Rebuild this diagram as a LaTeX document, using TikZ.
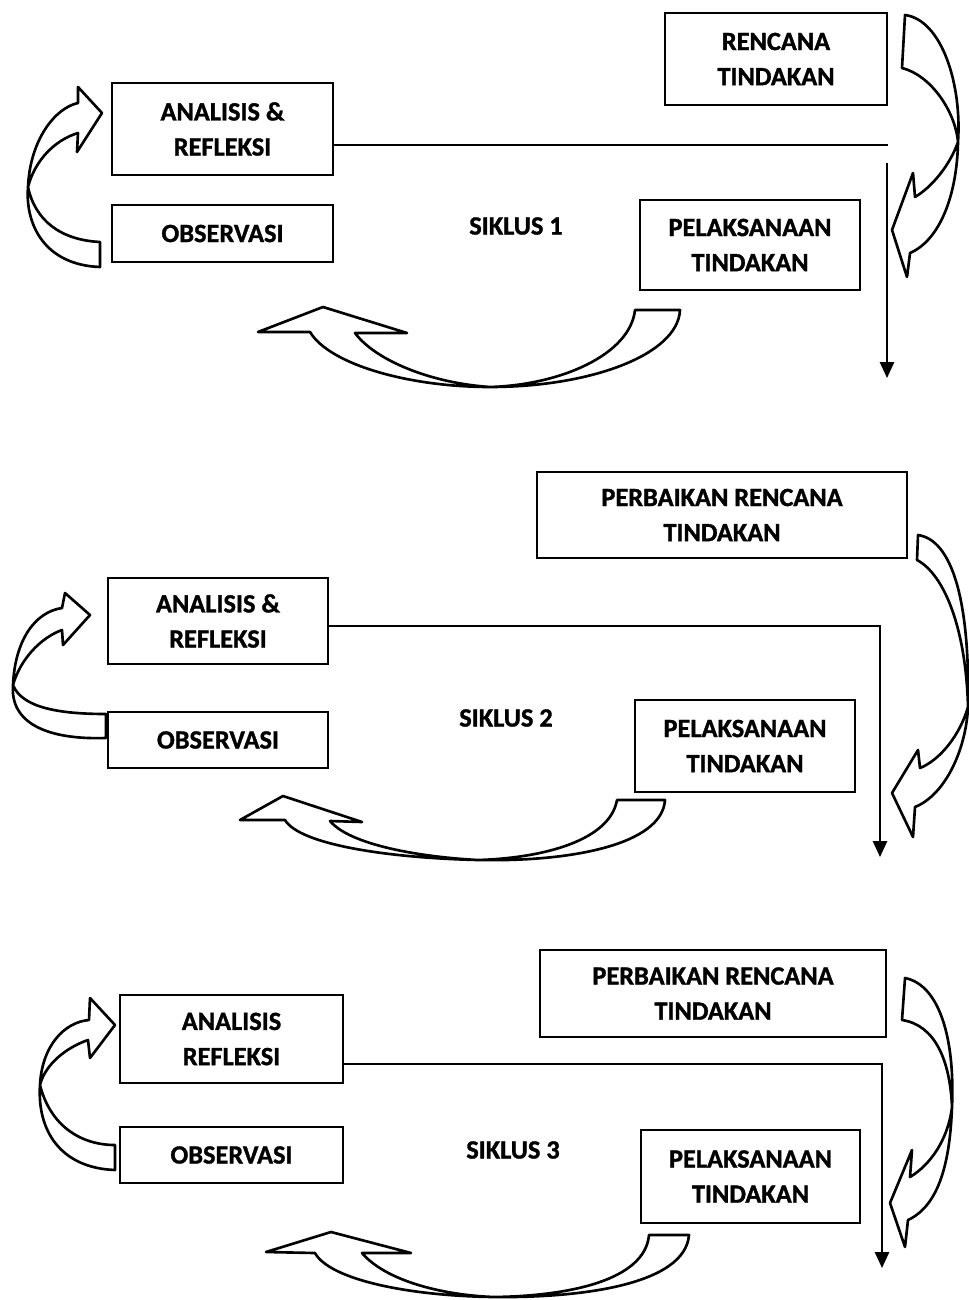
\documentclass[tikz,border=0pt]{standalone}
\usepackage{fontspec}
\setmainfont{Carlito}[BoldFeatures={FakeBold=1.2}]
\usetikzlibrary{arrows.meta}
\begin{document}
\begin{tikzpicture}[x=0.02cm,y=-0.02cm,
  box/.style={draw, line width=1.3pt, align=center, inner sep=0pt, font=\fontsize{15}{20}\selectfont\bfseries},
  lbl/.style={font=\fontsize{15}{20}\selectfont\bfseries},
  conn/.style={line width=1.2pt},
  arr/.style={conn, -{Triangle[width=8pt,length=9pt]}},
  ribbon/.style={draw, line width=1.5pt, fill=white, line join=round}]
\fill[white] (0,0) rectangle (969,1300);
\useasboundingbox (0,0) rectangle (969,1300);

% ---------------- SIKLUS 1 ----------------
\node[box, minimum width=4.44cm, minimum height=1.84cm] (ren1) at (776,59) {RENCANA\\TINDAKAN};
\node[box, minimum width=4.42cm, minimum height=1.84cm] (ana1) at (222.5,129) {ANALISIS \&\\REFLEKSI};
\node[box, minimum width=4.42cm, minimum height=1.14cm] (obs1) at (222.5,233.5) {OBSERVASI};
\node[box, minimum width=4.40cm, minimum height=1.80cm] (pel1) at (750,245) {PELAKSANAAN\\TINDAKAN};
\node[lbl] (sik1) at (516,226) {SIKLUS 1};
\coordinate (h1) at (888,145);
\coordinate (v1s) at (887,163);
\coordinate (v1e) at (887,378);
\draw[conn] (ana1.east |- h1) -- (h1);
\draw[arr] (v1s) -- (v1e);
% right curved arrow
\path[ribbon] (905,15) .. controls (942,20) and (962,85) .. (958,142)
  .. controls (957,195) and (940,240) .. (910,253) -- (907,277) -- (892,230)
  -- (913,173) -- (915,197) .. controls (932,187) and (950,165) .. (958,142)
  .. controls (955,110) and (930,75) .. (902,68) -- cycle;
% left curved arrow
\path[ribbon] (100,267) .. controls (45,265) and (25,225) .. (28,187)
  .. controls (30,140) and (55,108) .. (78,103) -- (78,87) -- (102,113)
  -- (77,152) -- (78,133) .. controls (55,140) and (35,160) .. (28,187)
  .. controls (35,220) and (60,240) .. (100,242) -- cycle;
% bottom curved arrow
\path[ribbon] (635,310) -- (680,310) .. controls (678,355) and (590,387) .. (490,387)
  .. controls (410,387) and (330,365) .. (310,332) -- (258,332) -- (323,307)
  -- (407,333) -- (355,333) .. controls (375,360) and (430,383) .. (490,387)
  .. controls (560,385) and (630,355) .. (635,310) -- cycle;

% ---------------- SIKLUS 2 ----------------
\node[box, minimum width=7.40cm, minimum height=1.72cm] (ren2) at (722,515) {PERBAIKAN RENCANA\\TINDAKAN};
\node[box, minimum width=4.40cm, minimum height=1.72cm] (ana2) at (218,621) {ANALISIS \&\\REFLEKSI};
\node[box, minimum width=4.40cm, minimum height=1.12cm] (obs2) at (218,740) {OBSERVASI};
\node[box, minimum width=4.40cm, minimum height=1.84cm] (pel2) at (745,746) {PELAKSANAAN\\TINDAKAN};
\node[lbl] (sik2) at (506,718) {SIKLUS 2};
\coordinate (c2) at (880,626);
\coordinate (e2) at (880,857);
\draw[arr] (ana2.east |- c2) -- (c2) -- (e2);
\path[ribbon] (918,535) .. controls (952,540) and (970,600) .. (968,707)
  .. controls (966,750) and (945,795) .. (915,807) -- (913,837) -- (892,793)
  -- (918,750) -- (920,768) .. controls (940,760) and (960,735) .. (968,707)
  .. controls (966,630) and (945,575) .. (917,560) -- cycle;
\path[ribbon] (106,738) .. controls (45,740) and (10,722) .. (13,685)
  .. controls (15,640) and (35,612) .. (62,608) -- (65,593) -- (90,615)
  -- (63,645) -- (62,630) .. controls (40,638) and (20,660) .. (13,685)
  .. controls (22,708) and (60,714) .. (106,714) -- cycle;
\path[ribbon] (617,800) -- (665,800) .. controls (662,845) and (570,862) .. (478,860)
  .. controls (390,858) and (300,845) .. (285,820) -- (240,820) -- (283,796)
  -- (362,822) -- (330,821) .. controls (350,845) and (420,857) .. (478,860)
  .. controls (545,858) and (610,840) .. (617,800) -- cycle;

% ---------------- SIKLUS 3 ----------------
\node[box, minimum width=6.92cm, minimum height=1.74cm] (ren3) at (713,993.5) {PERBAIKAN RENCANA\\TINDAKAN};
\node[box, minimum width=4.46cm, minimum height=1.76cm] (ana3) at (231.5,1039) {ANALISIS\\REFLEKSI};
\node[box, minimum width=4.46cm, minimum height=1.12cm] (obs3) at (231.5,1155) {OBSERVASI};
\node[box, minimum width=4.38cm, minimum height=1.86cm] (pel3) at (750.5,1176.5) {PELAKSANAAN\\TINDAKAN};
\node[lbl] (sik3) at (513,1150) {SIKLUS 3};
\coordinate (c3) at (882,1064);
\coordinate (e3) at (882,1268);
\draw[arr] (ana3.east |- c3) -- (c3) -- (e3);
\path[ribbon] (905,978) .. controls (940,985) and (955,1040) .. (952,1107)
  .. controls (950,1160) and (940,1205) .. (908,1220) -- (905,1247) -- (890,1203)
  -- (912,1150) -- (910,1177) .. controls (930,1165) and (948,1140) .. (952,1107)
  .. controls (950,1060) and (935,1025) .. (902,1020) -- cycle;
\path[ribbon] (115,1170) .. controls (60,1168) and (37,1130) .. (40,1085)
  .. controls (42,1045) and (65,1022) .. (89,1020) -- (90,998) -- (115,1025)
  -- (90,1058) -- (88,1040) .. controls (65,1048) and (45,1065) .. (40,1085)
  .. controls (50,1125) and (80,1145) .. (115,1145) -- cycle;
\path[ribbon] (649,1235) -- (689,1235) .. controls (685,1285) and (580,1298) .. (494,1297)
  .. controls (410,1296) and (330,1280) .. (315,1253) -- (266,1252) -- (331,1232)
  -- (411,1253) -- (362,1253) .. controls (385,1280) and (440,1295) .. (494,1297)
  .. controls (570,1296) and (645,1280) .. (649,1235) -- cycle;
\end{tikzpicture}
\end{document}
